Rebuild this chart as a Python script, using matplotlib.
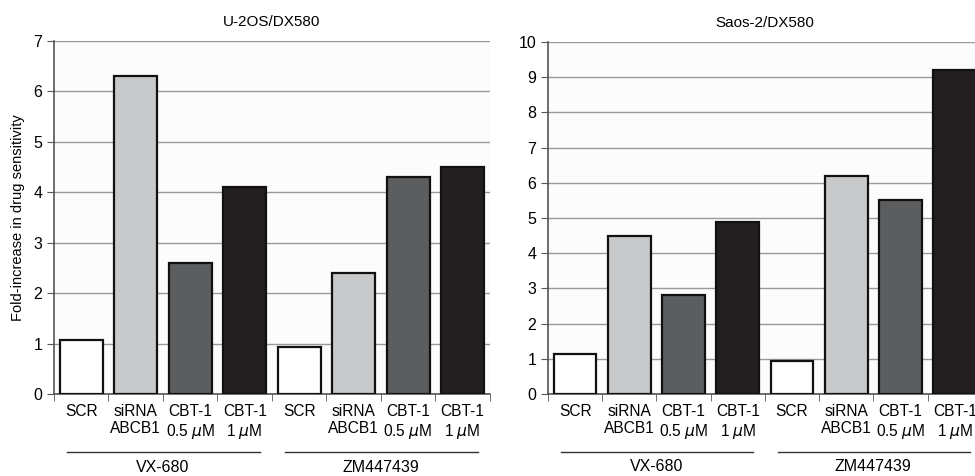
import matplotlib
matplotlib.use("Agg")
import matplotlib.pyplot as plt
import matplotlib.transforms as mtransforms

# data
categories = ["SCR", "siRNA\nABCB1", "CBT-1\n0.5 $\\mu$M", "CBT-1\n1 $\\mu$M"]
groups = ["VX-680", "ZM447439"]
u2os_vals = [1.07, 6.3, 2.6, 4.1, 0.93, 2.4, 4.3, 4.5]
saos_vals = [1.15, 4.5, 2.8, 4.9, 0.95, 6.2, 5.5, 9.2]
bar_colors = ["#ffffff", "#c8c9cb", "#5c5d5f", "#231f20"]

plt.rcParams["font.family"] = ["Liberation Sans", "DejaVu Sans"]
plt.rcParams["mathtext.fontset"] = "dejavusans"

fig = plt.figure(figsize=(9.75, 4.76), dpi=100)
ax1 = fig.add_axes([0.0554, 0.1723, 0.447, 0.7416])
ax2 = fig.add_axes([0.562, 0.1723, 0.445, 0.7395])


def draw_panel(ax, vals, title, ymax):
    n = len(vals)
    x = list(range(n))
    colors = [bar_colors[i % 4] for i in range(n)]
    ax.set_facecolor("#fcfcfc")
    ax.bar(x, vals, width=0.79, color=colors, edgecolor="#111111",
           linewidth=1.6, zorder=3)
    ax.set_xlim(-0.5, n - 0.5)
    ax.set_ylim(0, ymax)
    ax.set_yticks(range(0, ymax + 1))
    ax.yaxis.grid(True, color="#9a9a9a", linewidth=1.0, zorder=0)
    ax.set_axisbelow(True)
    for s in ["top", "right"]:
        ax.spines[s].set_visible(False)
    for s in ["left", "bottom"]:
        ax.spines[s].set_color("#555555")
        ax.spines[s].set_linewidth(1.2)
    ax.set_xticks(x)
    ax.set_xticklabels(categories * len(groups), fontsize=11.2,
                       multialignment="center", va="top")
    ax.tick_params(axis="x", length=0, pad=7)
    ax.set_xticks([i - 0.5 for i in range(n + 1)], minor=True)
    ax.tick_params(axis="x", which="minor", length=5, color="#555555")
    ax.tick_params(axis="y", length=5, color="#555555", labelsize=11.5)
    ax.set_title(title, fontsize=11, pad=11)

    trans = mtransforms.blended_transform_factory(ax.transData, ax.transAxes)
    for g, name in enumerate(groups):
        start = g * 4 - 0.5
        end = g * 4 + 3.5
        ax.plot([start + 0.24, end - 0.22], [-0.164, -0.164], color="#333333",
                linewidth=1.0, transform=trans, clip_on=False)
        ax.text((start + end) / 2, -0.207, name, transform=trans, ha="center",
                va="center", fontsize=11.5)


draw_panel(ax1, u2os_vals, "U-2OS/DX580", 7)
draw_panel(ax2, saos_vals, "Saos-2/DX580", 10)
ax1.set_ylabel("Fold-increase in drug sensitivity", fontsize=10.5, labelpad=6)

fig.savefig("out.png", dpi=100)
